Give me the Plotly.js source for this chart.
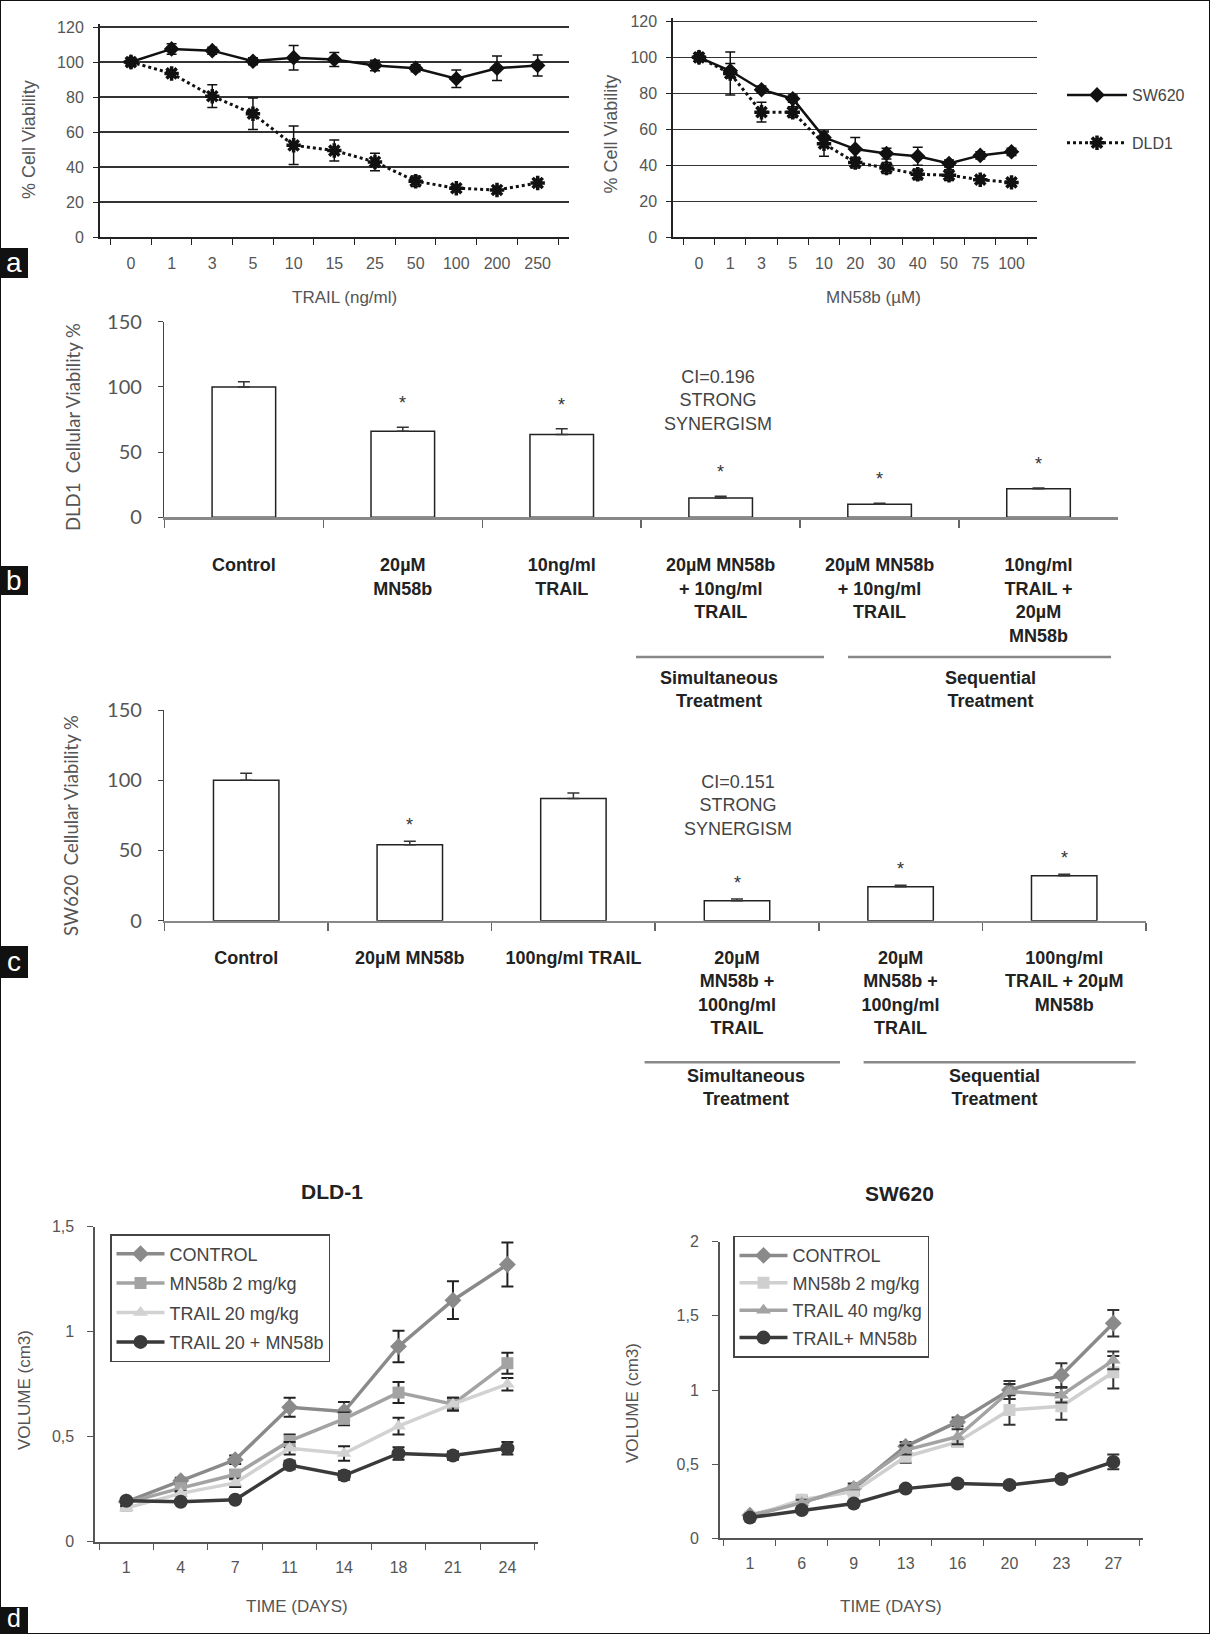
<!DOCTYPE html>
<html><head><meta charset="utf-8">
<script src="https://cdn.plot.ly/plotly-3.0.1.min.js"></script>
<style>html,body{margin:0;padding:0;background:#fff}#chart{width:1210px;height:1634px}</style>
</head><body><div id="chart"></div>
<script>
// ---------- Panel a : dose response ----------
const trailDoses = ['0','1','3','5','10','15','25','50','100','200','250'];
const trailSW620 = [100,107.5,106.5,100.5,102.5,101.5,98,96.5,90.5,96.5,98];
const trailSW620Err = [1.5,3,2,2,7,4,3,2,5,7,6];
const trailDLD1 = [100,93.5,80.5,70.5,52.5,49.5,43,32,28,27,31];
const trailDLD1Err = [1.5,2,6.5,9,11,6,5,3,2,2,2];

const mnDoses = ['0','1','3','5','10','20','30','40','50','75','100'];
const mnSW620 = [100,92.5,82,77,55.5,49,46.5,45,41,45.5,47.5];
const mnSW620Err = [1.5,4,2,2,3,6.5,3,5,2,2,2];
const mnDLD1 = [100,91,69.5,69.5,52,41.5,38.5,35,34.5,32,30.5];
const mnDLD1Err = [1.5,12,5.5,3,7,3,3,3,3,2,2];
const viabilityTicks = [0,20,40,60,80,100,120];

// ---------- Panel b : DLD1 combination ----------
const comboIds = ['ctrl','mn','trail','sim','seq1','seq2'];
const dldLabels = ['Control','20µM<br>MN58b','10ng/ml<br>TRAIL','20µM MN58b<br>+ 10ng/ml<br>TRAIL','20µM MN58b<br>+ 10ng/ml<br>TRAIL','10ng/ml<br>TRAIL +<br>20µM<br>MN58b'];
const dldViability = [100,66,63.5,14.8,10.1,21.8];
const dldErr = [4,3,4.4,1.3,0.6,0.6];
const dldErrMinus = [0,0,0,0,0,0];
const dldSignificant = [false,true,true,true,true,true];

// ---------- Panel c : SW620 combination ----------
const swLabels = ['Control','20µM MN58b','100ng/ml TRAIL','20µM<br>MN58b +<br>100ng/ml<br>TRAIL','20µM<br>MN58b +<br>100ng/ml<br>TRAIL','100ng/ml<br>TRAIL + 20µM<br>MN58b'];
const swViability = [100,54,87,14.2,24.2,32];
const swErr = [5,2.5,4,1.2,1,1];
const swErrMinus = [0,0,0,0,0,0];
const swSignificant = [false,true,false,true,true,true];

// ---------- Panel d : tumour volume ----------
const dldDays = ['1','4','7','11','14','18','21','24'];
const dldNames = ['CONTROL','MN58b 2 mg/kg','TRAIL 20 mg/kg','TRAIL 20 + MN58b'];
const dldControl = [0.19,0.29,0.39,0.64,0.62,0.93,1.15,1.32];
const dldControlErr = [0.01,0.015,0.02,0.045,0.045,0.075,0.09,0.105];
const dldMN = [0.185,0.255,0.32,0.48,0.585,0.71,0.655,0.85];
const dldMNErr = [0.01,0.015,0.02,0.03,0.03,0.05,0.03,0.05];
const dldTRAIL = [0.16,0.23,0.28,0.445,0.42,0.55,0.655,0.75];
const dldTRAILErr = [0.01,0.01,0.02,0.03,0.035,0.04,0.03,0.03];
const dldCombo = [0.195,0.19,0.2,0.365,0.315,0.42,0.41,0.445];
const dldComboErr = [0.01,0.01,0.01,0.02,0.02,0.03,0.02,0.03];

const swDays = ['1','6','9','13','16','20','23','27'];
const swNames = ['CONTROL','MN58b 2 mg/kg','TRAIL 40 mg/kg','TRAIL+ MN58b'];
const swControl = [0.155,0.245,0.335,0.62,0.785,1.0,1.1,1.45];
const swControlErr = [0.01,0.02,0.02,0.03,0.03,0.06,0.08,0.09];
const swMN = [0.145,0.26,0.315,0.55,0.65,0.865,0.89,1.12];
const swMNErr = [0.01,0.02,0.02,0.04,0.03,0.1,0.09,0.11];
const swTRAIL = [0.15,0.24,0.35,0.595,0.685,0.99,0.965,1.2];
const swTRAILErr = [0.01,0.02,0.02,0.03,0.05,0.05,0.05,0.06];
const swCombo = [0.14,0.19,0.235,0.335,0.37,0.36,0.4,0.515];
const swComboErr = [0.01,0.01,0.01,0.02,0.02,0.02,0.02,0.05];

// ---------- helpers ----------
const W = 1210, H = 1634;
const px = v => v / W;
const py = v => 1 - v / H;
const SANS = 'Liberation Sans, Arial, sans-serif';
const LATO = 'Lato, Liberation Sans, sans-serif';

function errBars(arr, color, th, w){ return {type:'data', array:arr, visible:true, color:color, thickness:th, width:w}; }

const traces = [];

// panel a, left
traces.push({type:'scatter', mode:'lines+markers', x:trailDoses, y:trailSW620, xaxis:'x', yaxis:'y', showlegend:false,
  line:{color:'#111', width:2.5}, marker:{symbol:'diamond', size:12, color:'#111'}, error_y:errBars(trailSW620Err,'#111',1.5,5)});
traces.push({type:'scatter', mode:'lines+markers', x:trailDoses, y:trailDLD1, xaxis:'x', yaxis:'y', showlegend:false,
  line:{color:'#111', width:3, dash:'dot'}, marker:{symbol:'asterisk-open', size:12, line:{color:'#111', width:3.5}}, error_y:errBars(trailDLD1Err,'#111',1.5,5)});
// panel a, right
traces.push({type:'scatter', mode:'lines+markers', name:'SW620', legendgroup:'sw', legend:'legend', x:mnDoses, y:mnSW620, xaxis:'x2', yaxis:'y2',
  line:{color:'#111', width:2.5}, marker:{symbol:'diamond', size:12, color:'#111'}, error_y:errBars(mnSW620Err,'#111',1.5,5)});
traces.push({type:'scatter', mode:'lines+markers', name:'DLD1', legendgroup:'dld', legend:'legend', x:mnDoses, y:mnDLD1, xaxis:'x2', yaxis:'y2',
  line:{color:'#111', width:3, dash:'dot'}, marker:{symbol:'asterisk-open', size:12, line:{color:'#111', width:3.5}}, error_y:errBars(mnDLD1Err,'#111',1.5,5)});

// panel b
traces.push({type:'bar', x:comboIds, y:dldViability, xaxis:'x3', yaxis:'y3', showlegend:false,
  marker:{color:'#ffffff', line:{color:'#222', width:1.5}},
  error_y:{type:'data', symmetric:false, array:dldErr, arrayminus:dldErrMinus, color:'#333', thickness:1.5, width:6}});
// panel c
traces.push({type:'bar', x:comboIds, y:swViability, xaxis:'x4', yaxis:'y4', showlegend:false,
  marker:{color:'#ffffff', line:{color:'#222', width:1.5}},
  error_y:{type:'data', symmetric:false, array:swErr, arrayminus:swErrMinus, color:'#333', thickness:1.5, width:6}});

// panel d
const dldSeries = [[dldControl,dldControlErr,'#8a8a8a','diamond',13],[dldMN,dldMNErr,'#a3a3a3','square',12],[dldTRAIL,dldTRAILErr,'#d2d2d2','triangle-up',13],[dldCombo,dldComboErr,'#3a3a3a','circle',14]];
dldSeries.forEach((s,i)=>{
  traces.push({type:'scatter', mode:'lines+markers', name:dldNames[i], legend:'legend2', legendgroup:'d'+i, x:dldDays, y:s[0], xaxis:'x5', yaxis:'y5',
    line:{color:s[2], width:3.5}, marker:{symbol:s[3], size:s[4], color:s[2]}, error_y:errBars(s[1],'#222',2,6)});
});
const swSeries = [[swControl,swControlErr,'#8a8a8a','diamond',13],[swMN,swMNErr,'#cfcfcf','square',12],[swTRAIL,swTRAILErr,'#a3a3a3','triangle-up',13],[swCombo,swComboErr,'#3a3a3a','circle',14]];
swSeries.forEach((s,i)=>{
  traces.push({type:'scatter', mode:'lines+markers', name:swNames[i], legend:'legend3', legendgroup:'s'+i, x:swDays, y:s[0], xaxis:'x6', yaxis:'y6',
    line:{color:s[2], width:3.5}, marker:{symbol:s[3], size:s[4], color:s[2]}, error_y:errBars(s[1],'#333',2,6)});
});

// ---------- axes ----------
const tickA = {family:SANS, size:16, color:'#555'};
function catAxis(domain, anchor, extra){
  return Object.assign({domain:domain, anchor:anchor, type:'category', tickson:'boundaries', showline:true, zeroline:false, showgrid:false,
    ticks:'outside', tickangle:0, fixedrange:true}, extra);
}
function valAxis(domain, anchor, extra){
  return Object.assign({domain:domain, anchor:anchor, showline:true, zeroline:false, ticks:'outside', fixedrange:true}, extra);
}

const layout = {
  width:W, height:H, margin:{l:0,r:0,t:0,b:0}, paper_bgcolor:'#fff', plot_bgcolor:'rgba(0,0,0,0)',
  separators:',.', bargap:0.6, font:{family:SANS, color:'#444'},
  xaxis: catAxis([px(100), px(568.6)], 'y', {linecolor:'#222', linewidth:2, tickcolor:'#222', ticklen:6, tickfont:tickA, ticklabelstandoff:10}),
  yaxis: valAxis([1-237.3/H, 1-23.5/H], 'x', {range:[0,122], tickvals:viabilityTicks, showgrid:true, gridcolor:'#333', gridwidth:1.6, linecolor:'#222', linewidth:2, tickcolor:'#222', ticklen:5, tickfont:tickA, ticklabelstandoff:6}),
  xaxis2: catAxis([px(673.3), px(1037.2)], 'y2', {linecolor:'#222', linewidth:2, tickcolor:'#222', ticklen:6, tickfont:tickA, ticklabelstandoff:10}),
  yaxis2: valAxis([1-237.3/H, 1-17.7/H], 'x2', {range:[0,122], tickvals:viabilityTicks, showgrid:true, gridcolor:'#333', gridwidth:1.6, linecolor:'#222', linewidth:2, tickcolor:'#222', ticklen:5, tickfont:tickA, ticklabelstandoff:6}),
  xaxis3: catAxis([px(164.4), px(1118)], 'y3', {tickmode:'array', tickvals:comboIds, ticktext:dldLabels, linecolor:'#888', linewidth:2.5, tickcolor:'#666', tickwidth:1.5, ticklen:8,
    tickfont:{family:SANS, size:18, color:'#222', weight:'bold'}, ticklabelstandoff:30}),
  yaxis3: valAxis([1-517.3/H, 1-321.7/H], 'x3', {range:[0,150], dtick:50, showgrid:false, linecolor:'#444', linewidth:1.5, tickcolor:'#444', ticklen:5,
    tickfont:{family:LATO, size:20, color:'#555'}, ticklabelstandoff:12}),
  xaxis4: catAxis([px(164.4), px(1146)], 'y4', {tickmode:'array', tickvals:comboIds, ticktext:swLabels, linecolor:'#888', linewidth:2.5, tickcolor:'#666', tickwidth:1.5, ticklen:8,
    tickfont:{family:SANS, size:18, color:'#222', weight:'bold'}, ticklabelstandoff:19}),
  yaxis4: valAxis([1-920.7/H, 1-710/H], 'x4', {range:[0,150], dtick:50, showgrid:false, linecolor:'#444', linewidth:1.5, tickcolor:'#444', ticklen:5,
    tickfont:{family:LATO, size:20, color:'#555'}, ticklabelstandoff:12}),
  xaxis5: catAxis([px(95.4), px(538.3)], 'y5', {linecolor:'#555', linewidth:2, tickcolor:'#555', ticklen:6, tickfont:tickA, ticklabelstandoff:10}),
  yaxis5: valAxis([1-1541.7/H, 1-1226.7/H], 'x5', {range:[0,1.5], dtick:0.5, showgrid:false, linecolor:'#555', linewidth:2, tickcolor:'#555', ticklen:6, tickfont:tickA, ticklabelstandoff:10}),
  xaxis6: catAxis([px(720), px(1143.2)], 'y6', {linecolor:'#555', linewidth:2, tickcolor:'#555', ticklen:6, tickfont:tickA, ticklabelstandoff:9}),
  yaxis6: valAxis([1-1538.3/H, 1-1241.7/H], 'x6', {range:[0,2], dtick:0.5, showgrid:false, linecolor:'#555', linewidth:2, tickcolor:'#555', ticklen:6, tickfont:tickA, ticklabelstandoff:10}),
  legend: {x:px(1062), y:py(78), xanchor:'left', yanchor:'top', bgcolor:'rgba(0,0,0,0)', borderwidth:0, font:{family:SANS, size:16, color:'#444'}, tracegroupgap:24, itemwidth:60},
  legend2: {x:px(110), y:py(1234), xanchor:'left', yanchor:'top', bgcolor:'#fff', bordercolor:'#444', borderwidth:1.5, font:{family:SANS, size:18, color:'#444'}, tracegroupgap:3, itemwidth:48},
  legend3: {x:px(733), y:py(1235.7), xanchor:'left', yanchor:'top', bgcolor:'#fff', bordercolor:'#444', borderwidth:1.5, font:{family:SANS, size:18, color:'#444'}, tracegroupgap:1, itemwidth:48},
  shapes: [], annotations: []
};

// ---------- annotations ----------
const A = layout.annotations, S = layout.shapes;
function txt(text, x, y, opts){ A.push(Object.assign({text:text, x:x, y:y, xref:'paper', yref:'paper', showarrow:false, xanchor:'center', yanchor:'middle',
  font:{family:SANS, size:17, color:'#555'}}, opts||{})); }

// axis titles panel a
txt('TRAIL (ng/ml)', px(344), py(297));
txt('% Cell Viability', px(29), py(140), {textangle:-90, font:{family:SANS, size:18, color:'#555'}});
txt('MN58b (µM)', px(874), py(297));
txt('% Cell Viability', px(610), py(134.5), {textangle:-90, font:{family:SANS, size:18, color:'#555'}});
// panel b / c titles
txt('DLD1\u00a0 Cellular Viability %', px(72.3), py(426.7), {textangle:-90, font:{family:LATO, size:18.5, color:'#555'}});
txt('SW620\u00a0 Cellular Viability %', px(71), py(826), {textangle:-90, font:{family:LATO, size:18.5, color:'#555'}});
txt('CI=0.196<br>STRONG<br>SYNERGISM', px(718), py(400), {font:{family:SANS, size:18, color:'#444'}});
txt('CI=0.151<br>STRONG<br>SYNERGISM', px(738), py(805), {font:{family:SANS, size:18, color:'#444'}});
const boldF = {family:SANS, size:18, color:'#222', weight:'bold'};
txt('Simultaneous<br>Treatment', px(718.6), py(689.5), {font:boldF});
txt('Sequential<br>Treatment', px(990), py(689.5), {font:boldF});
txt('Simultaneous<br>Treatment', px(746.4), py(1087.5), {font:boldF});
txt('Sequential<br>Treatment', px(994.6), py(1087.5), {font:boldF});
// significance stars
dldSignificant.forEach((sig,i)=>{ if(sig) A.push({text:'*', x:comboIds[i], y:dldViability[i]+dldErr[i], xref:'x3', yref:'y3', showarrow:false, yanchor:'middle', yshift:24, font:{family:SANS, size:18, color:'#333'}}); });
swSignificant.forEach((sig,i)=>{ if(sig) A.push({text:'*', x:comboIds[i], y:swViability[i]+swErr[i], xref:'x4', yref:'y4', showarrow:false, yanchor:'middle', yshift:16, font:{family:SANS, size:18, color:'#333'}}); });
// panel d titles
txt('DLD-1', px(332), py(1191.7), {font:{family:SANS, size:21, color:'#222', weight:'bold'}});
txt('SW620', px(899.4), py(1193.3), {font:{family:SANS, size:21, color:'#222', weight:'bold'}});
txt('VOLUME (cm3)', px(24), py(1390), {textangle:-90});
txt('VOLUME (cm3)', px(632), py(1403), {textangle:-90});
txt('TIME (DAYS)', px(297), py(1606.7));
txt('TIME (DAYS)', px(891), py(1606));

// bracket lines
function hline(x0,x1,y){ S.push({type:'line', xref:'paper', yref:'paper', x0:px(x0), x1:px(x1), y0:py(y), y1:py(y), line:{color:'#888', width:2.5}}); }
hline(636,824,657); hline(848,1111,657);
hline(644.6,840,1062.3); hline(863.6,1135.7,1062.3);

// panel letters
[['a',248,278],['b',566,595],['c',946,978],['d',1607,1634]].forEach(p=>{
  S.push({type:'rect', xref:'paper', yref:'paper', x0:0, x1:px(28), y0:py(p[2]), y1:py(p[1]), fillcolor:'#111', line:{width:0}});
  if (p[0] === 'd') {
    txt(p[0], px(14), 0, {yanchor:'bottom', font:{family:SANS, size:25, color:'#fff'}});
  } else {
    txt(p[0], px(14), py((p[1]+p[2])/2), {font:{family:SANS, size:28, color:'#fff'}});
  }
});
// outer frame
S.push({type:'rect', xref:'paper', yref:'paper', x0:0, x1:1, y0:0, y1:1, line:{color:'#111', width:2}, fillcolor:'rgba(0,0,0,0)'});

Plotly.newPlot('chart', traces, layout, {displayModeBar:false, staticPlot:true});
</script></body></html>
